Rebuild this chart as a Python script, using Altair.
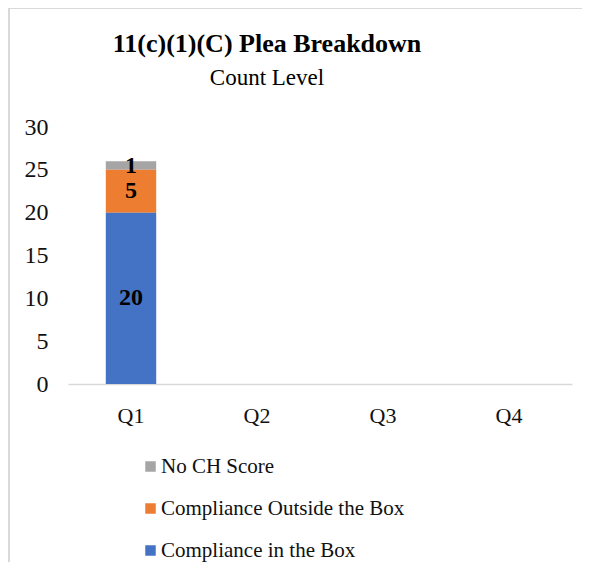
import altair as alt
import pandas as pd

quarters = ["Q1", "Q2", "Q3", "Q4"]
series = ["No CH Score", "Compliance Outside the Box", "Compliance in the Box"]
colors = ["#A5A5A5", "#ED7D31", "#4472C4"]
stack_rank = [3, 2, 1]  # bottom-to-top order
q_values = {"Q1": [1, 5, 20]}

rows = []
for q, vals in q_values.items():
    for s, v, r in zip(series, vals, stack_rank):
        rows.append({"quarter": q, "series": s, "value": v, "rank": r})
df = pd.DataFrame(rows)

FONT = "Liberation Serif"
xscale = alt.Scale(domain=quarters, paddingInner=0.6, paddingOuter=0.3)

base = alt.Chart(df).transform_stack(
    stack="value", groupby=["quarter"], as_=["y0", "y1"],
    sort=[alt.SortField("rank", order="ascending")]
).transform_calculate(mid="(datum.y0 + datum.y1) / 2")

bars = base.mark_bar().encode(
    x=alt.X("quarter:N", scale=xscale,
            axis=alt.Axis(title=None, labelAngle=0, ticks=False, domainColor="#d9d9d9",
                          domainWidth=1.5, labelFontSize=22, labelFont=FONT,
                          labelColor="#111111", labelPadding=21)),
    y=alt.Y("y0:Q", scale=alt.Scale(domain=[0, 30]),
            axis=alt.Axis(title=None, values=[0, 5, 10, 15, 20, 25, 30], grid=False,
                          domain=False, ticks=False, labelFontSize=24, labelFont=FONT,
                          labelColor="#111111", labelPadding=20)),
    y2="y1:Q",
    color=alt.Color("series:N", scale=alt.Scale(domain=series, range=colors),
                    legend=alt.Legend(title=None, orient="none", legendX=72, legendY=329,
                                      direction="vertical", symbolType="square",
                                      symbolSize=110, symbolStrokeWidth=0,
                                      labelFontSize=21, labelFont=FONT, labelColor="#111111",
                                      labelLimit=0, rowPadding=20, labelOffset=0, padding=0)),
)

labels = base.mark_text(font=FONT, fontSize=24, fontWeight="bold", color="black").encode(
    x=alt.X("quarter:N", scale=xscale),
    y=alt.Y("mid:Q"),
    text="value:Q",
)

left_border = alt.Chart(pd.DataFrame({"a": [0]})).mark_rule(color="#d9d9d9", strokeWidth=2).encode(
    x=alt.value(-59), y=alt.value(-120), y2=alt.value(440))
top_border = alt.Chart(pd.DataFrame({"a": [0]})).mark_rule(color="#d9d9d9", strokeWidth=2).encode(
    x=alt.value(-60), x2=alt.value(520), y=alt.value(-119))

chart = alt.layer(left_border, top_border, bars, labels).properties(
    width=504, height=257,
    autosize=alt.AutoSizeParams(type="none"),
    padding={"left": 60, "top": 119, "right": 10, "bottom": 178},
    view=alt.ViewBackground(stroke="transparent", strokeWidth=0),
    title=alt.TitleParams(text="11(c)(1)(C) Plea Breakdown", subtitle="Count Level",
                          anchor="middle", frame="group", dx=-53, font=FONT, fontSize=26,
                          fontWeight="bold", color="black", subtitleFont=FONT,
                          subtitleFontSize=23, subtitleColor="black", subtitlePadding=10,
                          offset=-84),
).configure_view(stroke="transparent", strokeWidth=0).configure(background="white")

chart.save("out.html", embed_options={"renderer": "svg", "actions": False})
